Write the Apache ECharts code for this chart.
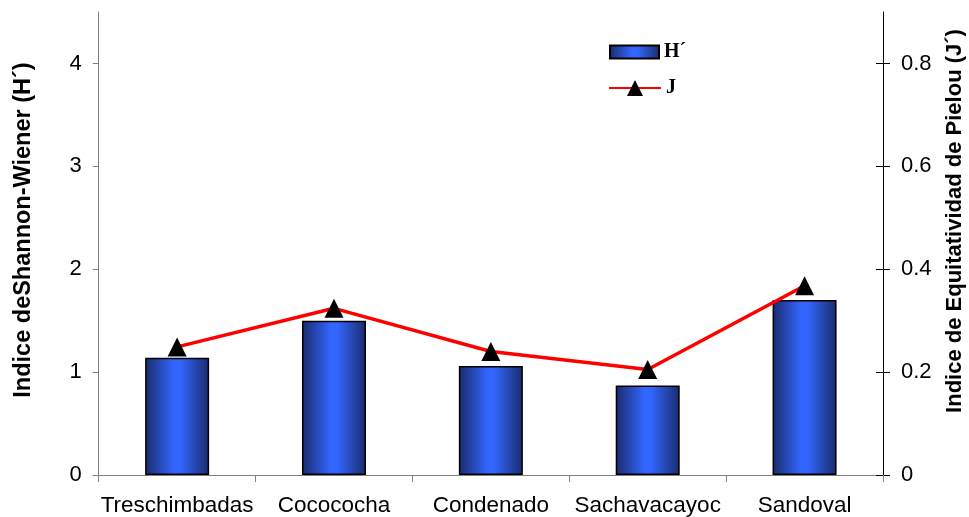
<!DOCTYPE html>
<html>
<head>
<meta charset="utf-8">
<script src="https://cdn.jsdelivr.net/npm/echarts@6/dist/echarts.min.js"></script>
<style>
html,body{margin:0;padding:0;background:#fff;}
#chart{width:969px;height:517px;}
</style>
</head>
<body>
<div id="chart"></div>
<script>
const categories = ['Treschimbadas', 'Cocococha', 'Condenado', 'Sachavacayoc', 'Sandoval'];
const shannonH = [1.14, 1.50, 1.06, 0.87, 1.70];
const pielouJ = [0.249, 0.324, 0.240, 0.205, 0.368];
const leftTicks = [0, 1, 2, 3, 4];
const rightTicks = [0, 0.2, 0.4, 0.6, 0.8];

const chart = echarts.init(document.getElementById('chart'));
const font = 'Liberation Sans, Arial, sans-serif';
const serif = 'Liberation Serif, Times New Roman, serif';
const barGradient = new echarts.graphic.LinearGradient(0, 0, 1, 0, [
  {offset: 0, color: '#1a2b6c'},
  {offset: 0.45, color: '#3366ff'},
  {offset: 0.55, color: '#3366ff'},
  {offset: 1, color: '#1a2b6c'}
]);

chart.setOption({
  backgroundColor: '#ffffff',
  animation: false,
  grid: {left: 98.7, right: 86, top: 12, bottom: 42, containLabel: false, outerBoundsMode: 'none'},
  legend: [
    {
      data: [{name: 'H´', icon: 'rect'}], left: 609, top: 42, padding: 0, itemWidth: 49, itemHeight: 13,
      textStyle: {fontFamily: serif, fontWeight: 'bold', fontSize: 20, color: '#000'}
    },
    {
      data: ['J'], left: 608, top: 78, padding: 0, itemWidth: 52, itemHeight: 20,
      textStyle: {fontFamily: serif, fontWeight: 'bold', fontSize: 20, color: '#000'}
    }
  ],
  xAxis: {
    type: 'category',
    data: categories,
    axisLine: {lineStyle: {color: '#808080', width: 1}},
    axisTick: {show: true, interval: 0, length: 7, lineStyle: {color: '#808080'}},
    axisLabel: {fontFamily: font, fontSize: 22.5, color: '#000', margin: 19, interval: 0}
  },
  yAxis: [
    {
      type: 'value', min: 0, max: 4.5, interval: 1, position: 'left',
      name: 'Indice deShannon-Wiener (H´)', nameLocation: 'middle', nameRotate: 90, nameGap: 63,
      nameTextStyle: {fontFamily: font, fontSize: 23.5, fontWeight: 'bold', color: '#000', padding: [0, 0, 0, 27]},
      axisLine: {show: true, lineStyle: {color: '#808080', width: 1}},
      axisTick: {show: true, length: 6, lineStyle: {color: '#808080'}, customValues: leftTicks},
      axisLabel: {fontFamily: font, fontSize: 22, color: '#000', margin: 17, customValues: leftTicks},
      splitLine: {show: false}
    },
    {
      type: 'value', min: 0, max: 0.9, interval: 0.2, position: 'right',
      name: 'Indice de Equitatividad de Pielou (J´)', nameLocation: 'middle', nameRotate: 90, nameGap: 61,
      nameTextStyle: {fontFamily: font, fontSize: 22, fontWeight: 'bold', color: '#000', padding: [0, 0, 0, 45]},
      axisLine: {show: true, lineStyle: {color: '#000', width: 1}},
      axisTick: {show: true, length: 7, lineStyle: {color: '#000'}, customValues: rightTicks},
      axisLabel: {fontFamily: font, fontSize: 22, color: '#000', margin: 18, customValues: rightTicks,
        formatter: v => (v === 0 ? '0' : v.toFixed(1))},
      splitLine: {show: false}
    },
    {
      type: 'value', min: 0, max: 0.9, position: 'right',
      axisLine: {show: false},
      axisTick: {show: true, inside: true, length: 7, lineStyle: {color: '#000'}, customValues: rightTicks},
      axisLabel: {show: false},
      splitLine: {show: false}
    }
  ],
  series: [
    {
      name: 'H´', type: 'bar', yAxisIndex: 0, data: shannonH, barWidth: 64,
      itemStyle: {color: barGradient, borderColor: '#000', borderWidth: 1.5},
      z: 2
    },
    {
      name: 'J', type: 'line', yAxisIndex: 1, data: pielouJ,
      symbol: 'triangle', symbolSize: 19,
      lineStyle: {color: '#ff0000', width: 3.5},
      itemStyle: {color: '#000', borderWidth: 0},
      z: 3
    }
  ]
});
</script>
</body>
</html>
